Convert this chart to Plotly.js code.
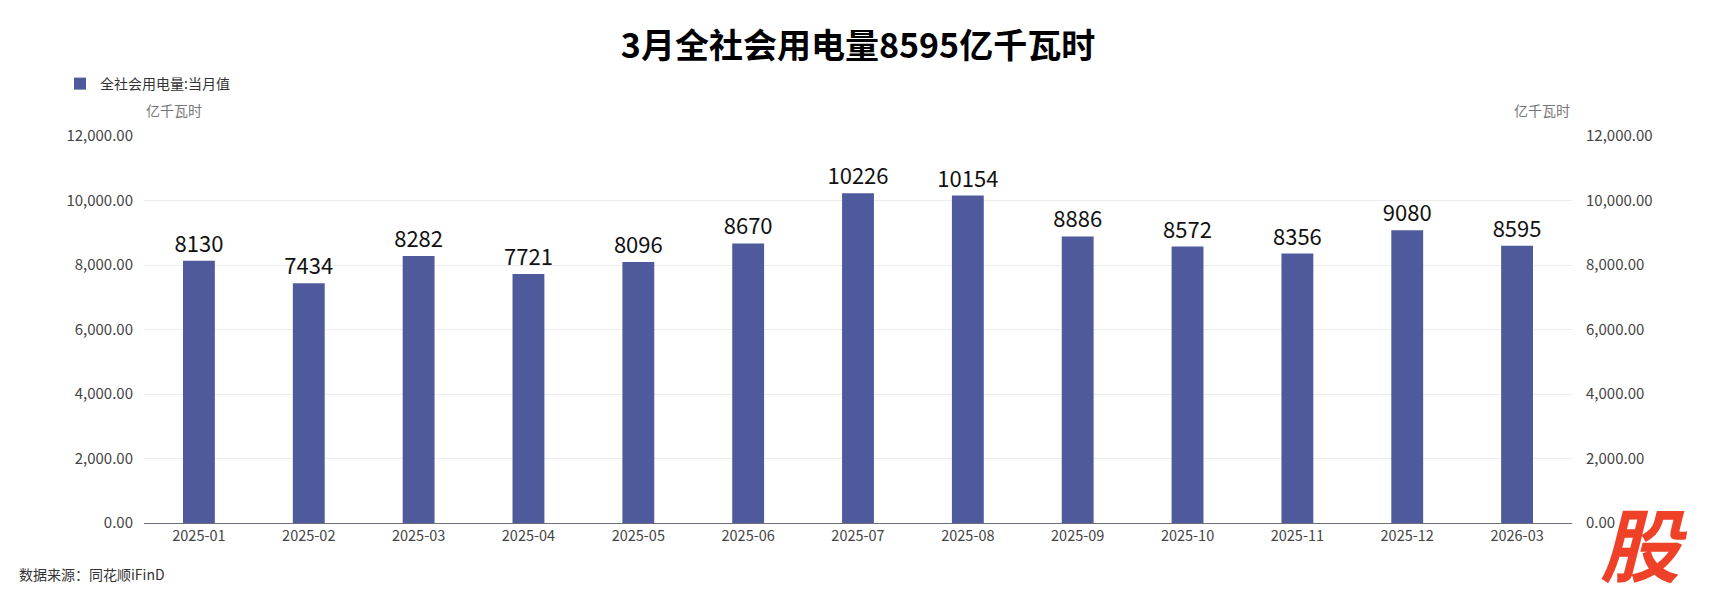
<!DOCTYPE html>
<html>
<head>
<meta charset="utf-8">
<script src="https://cdn.plot.ly/plotly-3.0.1.min.js"></script>
<style>html,body{margin:0;padding:0;background:#fff;}#chart{width:1716px;height:600px;}</style>
</head>
<body>
<div id="chart"></div>
<script>
const categories = ["2025-01","2025-02","2025-03","2025-04","2025-05","2025-06","2025-07","2025-08","2025-09","2025-10","2025-11","2025-12","2026-03"];
const monthlyValues = [8130,7434,8282,7721,8096,8670,10226,10154,8886,8572,8356,9080,8595];
const yTicks = [0,2000,4000,6000,8000,10000,12000];
const seriesName = "全社会用电量:当月值";
const unitLabel = "亿千瓦时";
const titleText = "3月全社会用电量8595亿千瓦时";
const sourceText = "数据来源：同花顺iFinD";

const W = 1716, H = 600;
const L = 144, R = 144, T = 136, B = 77;
const pw = W - L - R, ph = H - T - B;
const px = x => (x - L) / pw;
const py = y => (H - B - y) / ph;

const font = "'Noto Sans CJK SC', 'Microsoft YaHei', sans-serif";

const traces = [
  {
    type: "bar",
    name: seriesName,
    x: categories,
    y: monthlyValues,
    marker: {color: "#4e5a9b"},
    text: monthlyValues.map(String),
    textposition: "outside",
    constraintext: "none",
    textfont: {size: 22, color: "#111", family: font},
    cliponaxis: false,
    hoverinfo: "x+y"
  },
  {
    type: "scatter",
    mode: "none",
    x: categories,
    y: monthlyValues,
    yaxis: "y2",
    showlegend: false,
    hoverinfo: "skip"
  }
];

const layout = {
  width: W, height: H,
  margin: {l: L, r: R, t: T, b: B},
  paper_bgcolor: "#fff",
  plot_bgcolor: "#fff",
  font: {family: font, color: "#333", size: 12},
  title: {
    text: "<b>" + titleText + "</b>",
    font: {size: 34, color: "#000", family: font},
    x: 0.5, xanchor: "center",
    y: 1 - 46 / H, yanchor: "middle",
    xref: "paper"
  },
  bargap: 0.71,
  showlegend: true,
  legend: {
    x: px(60), xanchor: "left",
    y: py(84), yanchor: "middle",
    orientation: "h",
    font: {size: 14, color: "#333", family: font},
    bgcolor: "rgba(0,0,0,0)"
  },
  xaxis: {
    type: "category",
    showgrid: false,
    zeroline: false,
    showline: true,
    linecolor: "#6e7079",
    linewidth: 1,
    ticks: "",
    tickfont: {size: 14.5, color: "#444", family: font},
    fixedrange: true
  },
  yaxis: {
    range: [0, 12000],
    tickvals: yTicks,
    tickformat: ",.2f",
    showgrid: true,
    gridcolor: "#ececec",
    zeroline: false,
    showline: false,
    ticks: "",
    ticklabelstandoff: 10,
    tickfont: {size: 15, color: "#444", family: font},
    fixedrange: true
  },
  yaxis2: {
    overlaying: "y",
    side: "right",
    range: [0, 12000],
    tickvals: yTicks,
    tickformat: ",.2f",
    showgrid: false,
    zeroline: false,
    showline: false,
    ticks: "",
    ticklabelstandoff: 13,
    tickfont: {size: 15, color: "#444", family: font},
    fixedrange: true
  },
  annotations: [
    {
      text: unitLabel, xref: "paper", yref: "paper",
      x: px(144), y: py(110), xanchor: "left", yanchor: "middle",
      showarrow: false, font: {size: 14, color: "#777", family: font}
    },
    {
      text: unitLabel, xref: "paper", yref: "paper",
      x: px(1572), y: py(110), xanchor: "right", yanchor: "middle",
      showarrow: false, font: {size: 14, color: "#777", family: font}
    },
    {
      text: sourceText, xref: "paper", yref: "paper",
      x: px(17), y: py(574), xanchor: "left", yanchor: "middle",
      showarrow: false, font: {size: 14, color: "#333", family: font}
    },
    {
      text: "<b>股</b>", xref: "paper", yref: "paper",
      x: px(1644), y: py(541), xanchor: "center", yanchor: "middle",
      showarrow: false, font: {size: 80, color: "#ee4128", family: font, style: "italic"}
    }
  ]
};

Plotly.newPlot("chart", traces, layout, {displayModeBar: false, staticPlot: true});
</script>
</body>
</html>
